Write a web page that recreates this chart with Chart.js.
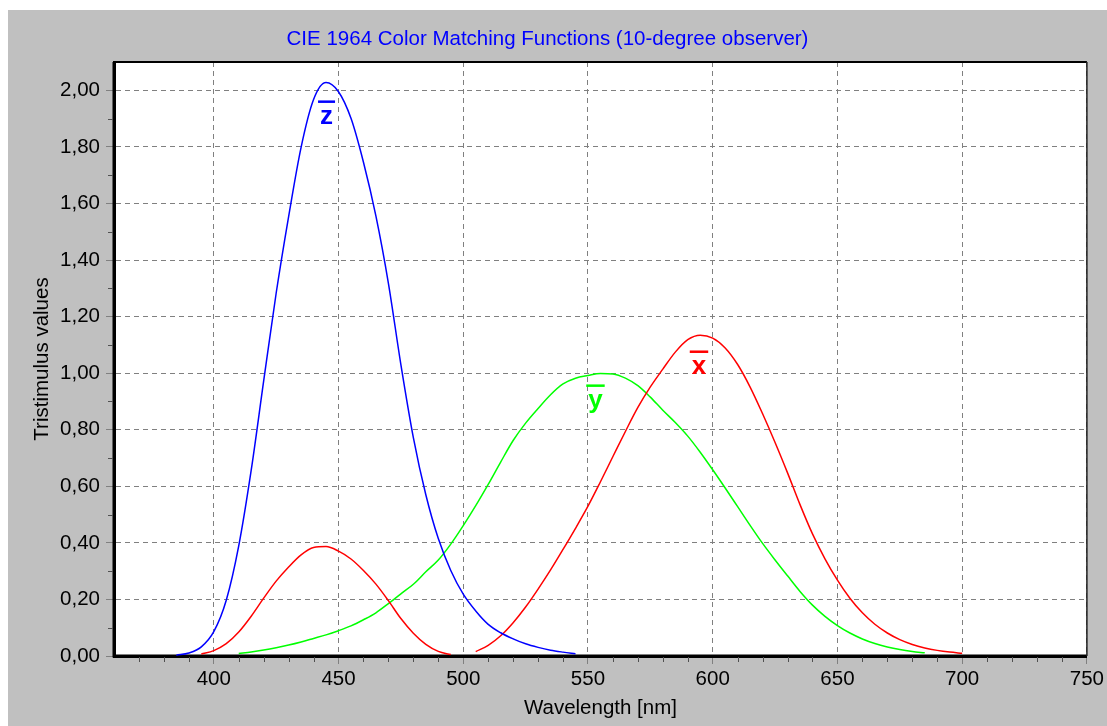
<!DOCTYPE html>
<html>
<head>
<meta charset="utf-8">
<script src="https://cdn.jsdelivr.net/npm/chart.js@4/dist/chart.umd.min.js"></script>
<style>
  html, body { margin: 0; padding: 0; background: #ffffff; }
  #wrap { position: absolute; left: 8px; top: 10px; width: 1099px; height: 716px; background: #c0c0c0; }
  canvas { display: block; }
</style>
</head>
<body>
<div id="wrap"><canvas id="c" width="1099" height="716"></canvas></div>
<script>
// ---- data ----
const wavelengths = [385,390,395,400,405,410,415,420,425,430,435,440,445,450,455,460,465,470,475,480,485,490,495,500,505,510,515,520,525,530,535,540,545,550,555,560,565,570,575,580,585,590,595,600,605,610,615,620,625,630,635,640,645,650,655,660,665,670,675,680,685,690,695,700];

const xBar = [null,null,0.0072,0.0191,0.0434,0.0847,0.1406,0.2045,0.2647,0.3147,0.3577,0.3837,0.3867,0.3707,0.3430,0.3023,0.2541,0.1956,0.1323,0.0805,0.0411,0.0162,0.0051,null,0.0154,0.0375,0.0714,0.1177,0.1730,0.2365,0.3042,0.3768,0.4516,0.5298,0.6161,0.7052,0.7938,0.8787,0.9512,1.0142,1.0743,1.1185,1.1343,1.1240,1.0891,1.0305,0.9507,0.8563,0.7549,0.6475,0.5351,0.4316,0.3437,0.2683,0.2043,0.1526,0.1122,0.0813,0.0579,0.0409,0.0286,0.0199,0.0138,0.0096];

const yBar = [null,null,null,null,null,0.0088,0.0145,0.0214,0.0295,0.0387,0.0496,0.0621,0.0747,0.0895,0.1063,0.1282,0.1528,0.1852,0.2199,0.2536,0.2977,0.3391,0.3954,0.4608,0.5314,0.6067,0.6857,0.7618,0.8233,0.8752,0.9238,0.9620,0.9822,0.9918,0.9991,0.9973,0.9824,0.9556,0.9152,0.8689,0.8256,0.7774,0.7204,0.6583,0.5939,0.5280,0.4618,0.3981,0.3396,0.2835,0.2283,0.1798,0.1402,0.1076,0.0812,0.0603,0.0441,0.0318,0.0226,0.0159,0.0111,null,null,null];

const zBar = [0.0029,0.0105,0.0323,0.0860,0.1971,0.3894,0.6568,0.9725,1.2825,1.5535,1.7985,1.9673,2.0273,1.9948,1.9007,1.7454,1.5549,1.3176,1.0302,0.7721,0.5701,0.4153,0.3024,0.2185,0.1592,0.1120,0.0822,0.0607,0.0431,0.0305,0.0206,0.0137,0.0079,null,null,null,null,null,null,null,null,null,null,null,null,null,null,null,null,null,null,null,null,null,null,null,null,null,null,null,null,null,null,null];

const xTickValues = [400,450,500,550,600,650,700,750];
const yTickValues = [0,0.2,0.4,0.6,0.8,1.0,1.2,1.4,1.6,1.8,2.0];

const curveLetters = ['x','y','z'];
const curveLabelWavelength = [594.5, 553, 445.2];
const curveLabelValue = [0.997, 0.877, 1.881];
const curveColors = ['#ff0000','#00ff00','#0000ff'];

const titleText = 'CIE 1964 Color Matching Functions (10-degree observer)';
const xTitle = 'Wavelength [nm]';
const yTitle = 'Tristimulus values';

// ---- helpers ----
const FONT = "'Liberation Sans', Arial, sans-serif";
const toPts = arr => wavelengths.map((w, i) => ({x: w, y: arr[i]}));

const plotBg = {
  id: 'plotBg',
  beforeDraw(chart) {
    const {ctx, chartArea: a} = chart;
    ctx.save();
    ctx.fillStyle = '#ffffff';
    ctx.fillRect(a.left, a.top, a.right - a.left, a.bottom - a.top);
    ctx.restore();
  },
  beforeDatasetsDraw(chart) {
    const {ctx, chartArea: a, scales} = chart;
    const xs = scales.x, ys = scales.y;
    ctx.save();
    ctx.setLineDash([]);
    // axis lines (solid, thick) on left and bottom
    ctx.strokeStyle = '#000';
    ctx.lineWidth = 3;
    ctx.beginPath();
    ctx.moveTo(a.left, a.top); ctx.lineTo(a.left, a.bottom + 1.5);
    ctx.moveTo(a.left - 1.5, a.bottom); ctx.lineTo(a.right, a.bottom);
    ctx.stroke();
    // top & right frame
    ctx.lineWidth = 2;
    ctx.beginPath();
    ctx.moveTo(a.left, a.top); ctx.lineTo(a.right, a.top);
    ctx.stroke();
    ctx.strokeStyle = '#202020';
    ctx.lineWidth = 1.5;
    ctx.beginPath();
    ctx.moveTo(a.right, a.top); ctx.lineTo(a.right, a.bottom);
    ctx.stroke();
    // minor ticks
    ctx.strokeStyle = '#505050';
    ctx.lineWidth = 1;
    ctx.beginPath();
    for (let w = 370; w < 750; w += 10) {
      if (w % 50 === 0) continue;
      const px = Math.round(xs.getPixelForValue(w)) + 0.5;
      ctx.moveTo(px, a.bottom + 1); ctx.lineTo(px, a.bottom + 6);
    }
    for (let k = 1; k < 21; k += 2) {
      const py = Math.round(ys.getPixelForValue(k / 10)) + 0.5;
      ctx.moveTo(a.left - 6, py); ctx.lineTo(a.left - 1, py);
    }
    ctx.stroke();
    ctx.restore();
  }
};

const labels = {
  id: 'curveLabels',
  afterDraw(chart) {
    const {ctx, scales} = chart;
    const xs = scales.x, ys = scales.y;
    ctx.save();
    const size = 26;
    ctx.font = 'bold ' + size + 'px ' + FONT;
    ctx.textAlign = 'center';
    ctx.textBaseline = 'alphabetic';
    curveLetters.forEach((ch, i) => {
      const px = xs.getPixelForValue(curveLabelWavelength[i]);
      const py = ys.getPixelForValue(curveLabelValue[i]);
      ctx.fillStyle = curveColors[i];
      ctx.fillText(ch, px, py);
      const w = ctx.measureText(ch).width + 4;
      ctx.fillRect(px - w / 2, py - size * 0.52 - 10, w, 2.5);
    });
    ctx.restore();
  }
};

const gridCommon = {
  color: '#808080',
  lineWidth: 1,
  tickColor: '#808080',
  tickLength: 8,
  tickBorderDash: [],
  drawTicks: true
};

new Chart(document.getElementById('c'), {
  type: 'line',
  data: {
    datasets: [
      { label: 'z', data: toPts(zBar), borderColor: curveColors[2] },
      { label: 'x', data: toPts(xBar), borderColor: curveColors[0] },
      { label: 'y', data: toPts(yBar), borderColor: curveColors[1] }
    ]
  },
  options: {
    responsive: false,
    animation: false,
    devicePixelRatio: 1,
    layout: { padding: { left: 0, right: 20, top: 0, bottom: 0 } },
    elements: {
      point: { radius: 0 },
      line: { borderWidth: 1.5, cubicInterpolationMode: 'monotone', fill: false }
    },
    plugins: {
      legend: { display: false },
      tooltip: { enabled: false },
      title: {
        display: true,
        text: titleText,
        color: '#0000ff',
        font: { family: FONT, size: 20.5, weight: 'normal' },
        padding: { top: 16.7, bottom: 10.7 }
      }
    },
    scales: {
      x: {
        type: 'linear',
        min: 360, max: 750,
        afterFit(s) { s.height = 70; },
        afterBuildTicks(s) { s.ticks = xTickValues.map(v => ({value: v})); },
        ticks: {
          includeBounds: false,
          color: '#000',
          padding: 3,
          maxRotation: 0,
          font: { family: FONT, size: 20.5 },
          callback: v => String(v)
        },
        grid: gridCommon,
        border: { display: true, color: '#000', width: 3, dash: [5, 4] },
        title: {
          display: true, text: xTitle, color: '#000',
          font: { family: FONT, size: 20.5 },
          padding: { top: 0, bottom: 5.7 }
        }
      },
      y: {
        type: 'linear',
        min: 0, max: 2.1,
        afterFit(s) { s.width = 106; },
        afterBuildTicks(s) { s.ticks = yTickValues.map(v => ({value: v})); },
        ticks: {
          includeBounds: false,
          color: '#000',
          padding: 6,
          font: { family: FONT, size: 20.5 },
          callback: v => Number(v).toFixed(2).replace('.', ',')
        },
        grid: gridCommon,
        border: { display: true, color: '#000', width: 3, dash: [5, 4] },
        title: {
          display: true, text: yTitle, color: '#000',
          font: { family: FONT, size: 20.5 },
          padding: { top: 21.7, bottom: 0 }
        }
      }
    }
  },
  plugins: [plotBg, labels]
});
</script>
</body>
</html>
